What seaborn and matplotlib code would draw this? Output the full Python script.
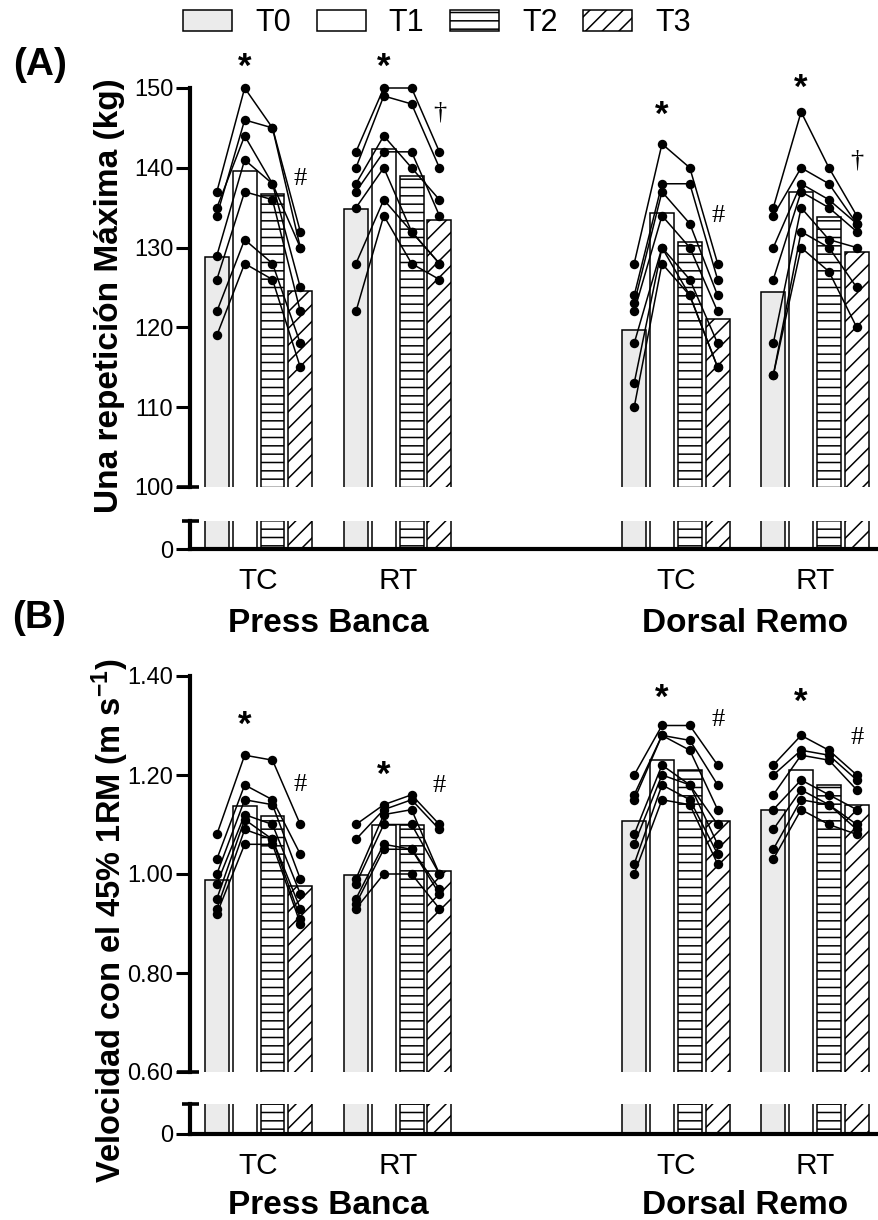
import numpy as np
import pandas as pd
import matplotlib
matplotlib.use("Agg")
import matplotlib.pyplot as plt
import matplotlib.patches as mpatches
import matplotlib.transforms as mtransforms
from matplotlib.ticker import FormatStrFormatter
import seaborn as sns

sns.set_theme(style="ticks")
plt.rcParams["font.family"] = ["Liberation Sans", "DejaVu Sans"]
plt.rcParams["hatch.linewidth"] = 1.1
plt.rcParams["mathtext.default"] = "regular"
for key in ("text.color", "axes.labelcolor", "xtick.color", "ytick.color",
            "axes.edgecolor"):
    plt.rcParams[key] = "black"

# ---------------------------------------------------------------- data
times = ["T0", "T1", "T2", "T3"]
slots = ["PB_TC", "PB_RT", "gap", "DR_TC", "DR_RT"]   # "gap" leaves an empty slot
groups = ["PB_TC", "PB_RT", "DR_TC", "DR_RT"]
tick_labels = ["TC", "RT", "TC", "RT"]
exercise_labels = ["Press Banca", "Dorsal Remo"]

# (A) one-repetition maximum (kg): group means per time point
rm_means = {
    "PB_TC": [128.8, 139.6, 136.7, 124.6],
    "PB_RT": [134.8, 142.4, 139.0, 133.4],
    "DR_TC": [119.7, 134.3, 130.7, 121.1],
    "DR_RT": [124.4, 137.0, 133.8, 129.5],
}
# (A) individual subjects, columns T0..T3
rm_pb_tc = [[137, 150, 145, 132], [134, 146, 145, 130], [135, 144, 138, 130],
            [129, 141, 138, 125], [126, 137, 136, 122], [122, 131, 128, 118],
            [119, 128, 126, 115]]
rm_pb_rt = [[142, 150, 150, 142], [140, 149, 148, 140], [138, 144, 140, 136],
            [137, 142, 142, 134], [135, 140, 132, 128], [128, 136, 132, 128],
            [122, 134, 128, 126]]
rm_dr_tc = [[128, 143, 140, 128], [124, 138, 138, 126], [123, 137, 133, 124],
            [122, 134, 130, 122], [118, 130, 126, 118], [113, 130, 124, 115],
            [110, 128, 124, 115]]
rm_dr_rt = [[135, 147, 140, 134], [134, 140, 138, 133], [130, 138, 136, 133],
            [126, 137, 135, 132], [118, 135, 131, 130], [114, 132, 130, 125],
            [114, 130, 127, 120]]

# (B) mean velocity at 45% 1RM (m/s): group means per time point
vel_means = {
    "PB_TC": [0.988, 1.137, 1.117, 0.976],
    "PB_RT": [0.998, 1.099, 1.099, 1.007],
    "DR_TC": [1.107, 1.230, 1.210, 1.107],
    "DR_RT": [1.129, 1.210, 1.180, 1.139],
}
vel_pb_tc = [[1.08, 1.24, 1.23, 1.10], [1.03, 1.18, 1.15, 1.04], [1.00, 1.15, 1.14, 0.99],
             [0.98, 1.12, 1.10, 0.96], [0.95, 1.11, 1.07, 0.93], [0.93, 1.09, 1.07, 0.91],
             [0.92, 1.06, 1.06, 0.90]]
vel_pb_rt = [[1.10, 1.14, 1.16, 1.10], [1.07, 1.13, 1.15, 1.09], [0.99, 1.12, 1.13, 1.00],
             [0.98, 1.10, 1.10, 1.00], [0.95, 1.06, 1.05, 0.97], [0.94, 1.05, 1.05, 0.96],
             [0.93, 1.00, 1.00, 0.93]]
vel_dr_tc = [[1.20, 1.30, 1.30, 1.22], [1.16, 1.28, 1.27, 1.18], [1.15, 1.28, 1.25, 1.13],
             [1.08, 1.22, 1.18, 1.10], [1.06, 1.20, 1.18, 1.06], [1.02, 1.18, 1.15, 1.04],
             [1.00, 1.15, 1.14, 1.02]]
vel_dr_rt = [[1.22, 1.28, 1.25, 1.20], [1.20, 1.25, 1.24, 1.19], [1.16, 1.24, 1.23, 1.17],
             [1.13, 1.19, 1.16, 1.13], [1.09, 1.17, 1.14, 1.10], [1.05, 1.15, 1.14, 1.09],
             [1.03, 1.13, 1.10, 1.08]]

rm_subjects = dict(zip(groups, [rm_pb_tc, rm_pb_rt, rm_dr_tc, rm_dr_rt]))
vel_subjects = dict(zip(groups, [vel_pb_tc, vel_pb_rt, vel_dr_tc, vel_dr_rt]))

# significance symbols: (group, time index, symbol, y value)
rm_marks = [("PB_TC", 1, "*", 152.6), ("PB_TC", 3, "#", 138.6),
            ("PB_RT", 1, "*", 152.6), ("PB_RT", 3, "†", 146.9),
            ("DR_TC", 1, "*", 146.6), ("DR_TC", 3, "#", 133.9),
            ("DR_RT", 1, "*", 149.9), ("DR_RT", 3, "†", 140.9)]
vel_marks = [("PB_TC", 1, "*", 1.300), ("PB_TC", 3, "#", 1.180),
             ("PB_RT", 1, "*", 1.200), ("PB_RT", 3, "#", 1.178),
             ("DR_TC", 1, "*", 1.354), ("DR_TC", 3, "#", 1.311),
             ("DR_RT", 1, "*", 1.346), ("DR_RT", 3, "#", 1.275)]

# ---------------------------------------------------------------- style
face_colors = ["#ebebeb", "white", "white", "white"]
hatches = ["", "", "--", "//"]
BAR_W = 0.8
HUE_STEP = BAR_W / len(times)


def xpos(group, t_idx):
    return slots.index(group) + (t_idx - (len(times) - 1) / 2) * HUE_STEP


def style_bars(ax):
    for cont, fc, h in zip(ax.containers, face_colors, hatches):
        for p in cont.patches:
            p.set_facecolor(fc)
            p.set_edgecolor("black")
            p.set_hatch(h)
            p.set_linewidth(1.1)


def draw_panel(ax_top, ax_bot, means, subjects, ylim, yticks, fmt, low_top, marks):
    bars = pd.DataFrame([(g, t, v) for g in groups for t, v in zip(times, means[g])],
                        columns=["group", "time", "value"])
    for ax in (ax_top, ax_bot):
        sns.barplot(data=bars, x="group", y="value", hue="time", order=slots,
                    hue_order=times, errorbar=None, width=BAR_W, gap=0.14,
                    saturation=1, legend=False, ax=ax)
        style_bars(ax)

    pts = pd.DataFrame([(f"{g}-{i}", xpos(g, j), v)
                        for g in groups
                        for i, row in enumerate(subjects[g])
                        for j, v in enumerate(row)],
                       columns=["unit", "x", "value"])
    sns.lineplot(data=pts, x="x", y="value", units="unit", estimator=None,
                 sort=False, color="black", linewidth=1.1, marker="o",
                 markersize=6.8, markeredgewidth=0, legend=False, ax=ax_top)
    for line in ax_top.lines:
        line.set_clip_on(False)

    for g, j, sym, yv in marks:
        if sym == "*":
            ax_top.text(xpos(g, j), yv, sym, ha="center", va="center",
                        fontsize=25, fontweight="bold", clip_on=False)
        else:
            ax_top.text(xpos(g, j), yv, sym, ha="center", va="center",
                        fontsize=19, family=["Liberation Serif", "DejaVu Serif"],
                        clip_on=False)

    xl = (-0.493, 4.46)
    for ax in (ax_top, ax_bot):
        ax.set_xlim(*xl)
        ax.set_xlabel("")
        ax.set_ylabel("")
        ax.spines["right"].set_visible(False)
        ax.spines["top"].set_visible(False)
        ax.spines["left"].set_linewidth(3)
        ax.tick_params(axis="y", width=2.2, length=10, labelsize=17, pad=2,
                       colors="black")
        ax.patch.set_alpha(0)

    ax_top.set_ylim(*ylim)
    ax_top.set_yticks(yticks)
    ax_top.yaxis.set_major_formatter(FormatStrFormatter(fmt))
    ax_top.spines["bottom"].set_visible(False)
    ax_top.tick_params(axis="x", bottom=False, labelbottom=False)

    ax_bot.set_ylim(0, low_top)
    ax_bot.set_yticks([0])
    ax_bot.set_yticklabels(["0"])
    ax_bot.spines["bottom"].set_linewidth(3)
    ax_bot.set_xticks([slots.index(g) for g in groups])
    ax_bot.set_xticklabels(tick_labels, fontsize=21.5)
    ax_bot.tick_params(axis="x", length=0, pad=13, colors="black")

    # short caps marking the axis break
    w = ax_top.bbox.width
    ax_top.plot([-13 / w, 9 / w], [0, 0], transform=ax_top.transAxes,
                color="black", lw=2.6, clip_on=False, solid_capstyle="butt")
    ax_bot.plot([-8 / w, 9 / w], [1, 1], transform=ax_bot.transAxes,
                color="black", lw=2.6, clip_on=False, solid_capstyle="butt")


# ---------------------------------------------------------------- figure
W, H = 879, 1220
fig = plt.figure(figsize=(W / 100, H / 100), dpi=100)


def px_axes(x0, y_top, x1, y_bot):
    return fig.add_axes([x0 / W, 1 - y_bot / H, (x1 - x0) / W, (y_bot - y_top) / H])


axA_top = px_axes(190, 88, 879, 487)
axA_bot = px_axes(190, 521, 879, 549)
axB_top = px_axes(190, 676, 879, 1072)
axB_bot = px_axes(190, 1104, 879, 1134)

draw_panel(axA_top, axA_bot, rm_means, rm_subjects, (100, 150),
           [100, 110, 120, 130, 140, 150], "%d", 5, rm_marks)
draw_panel(axB_top, axB_bot, vel_means, vel_subjects, (0.6, 1.4),
           [0.6, 0.8, 1.0, 1.2, 1.4], "%.2f", 0.05, vel_marks)

# exercise names under each pair of groups
for ax_bot, y_px in ((axA_bot, 624), (axB_bot, 1206)):
    tr = mtransforms.blended_transform_factory(ax_bot.transData, fig.transFigure)
    for name, center in zip(exercise_labels, [0.5, 3.5]):
        ax_bot.text(center, 1 - y_px / H, name, transform=tr, ha="center",
                    va="center", fontsize=24, fontweight="bold")

# y-axis titles and panel letters
fig.text(110 / W, 1 - 296 / H, "Una repetición Máxima (kg)", rotation=90,
         ha="center", va="center", fontsize=24, fontweight="bold")
fig.text(110 / W, 1 - 921 / H, "Velocidad con el 45% 1RM (m s$^{-1}$)",
         rotation=90, ha="center", va="center", fontsize=23.5, fontweight="bold")
fig.text(40 / W, 1 - 65 / H, "(A)", ha="center", va="center", fontsize=28,
         fontweight="bold")
fig.text(39 / W, 1 - 618 / H, "(B)", ha="center", va="center", fontsize=28,
         fontweight="bold")

# legend for the four time points
handles = [mpatches.Patch(facecolor=fc, edgecolor="black", hatch=h, linewidth=1.1,
                          label=t)
           for fc, h, t in zip(face_colors, hatches, times)]
fig.legend(handles=handles, loc="center", bbox_to_anchor=(437 / W, 1 - 23 / H),
           ncol=4, frameon=False, fontsize=22, handlelength=1.6,
           handleheight=0.7, handletextpad=0.75, columnspacing=0.85)

fig.savefig("out.png", dpi=100)
